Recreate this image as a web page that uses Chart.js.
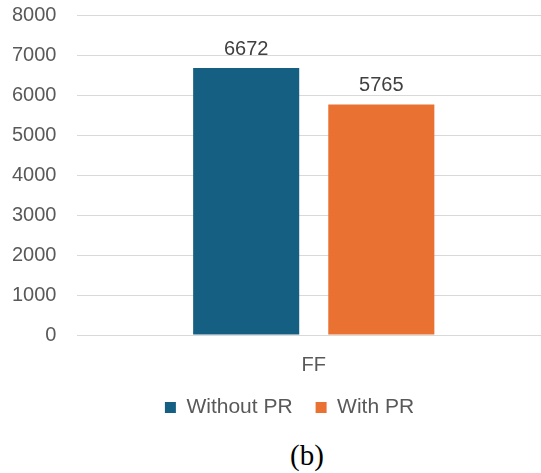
<!DOCTYPE html>
<html>
<head>
<meta charset="utf-8">
<script src="https://cdn.jsdelivr.net/npm/chart.js@4"></script>
<style>
html,body{margin:0;padding:0;background:#fff;overflow:hidden;width:541px;height:473px;position:relative;}
#wrap{position:absolute;left:0;top:-18px;width:550px;height:446px;}
#cap{position:absolute;left:290px;top:441px;font-family:"Liberation Serif","Times New Roman",serif;font-size:29px;line-height:29px;color:#000;white-space:nowrap;}
</style>
</head>
<body>
<div id="wrap"><canvas id="c" width="550" height="446"></canvas></div>
<div id="cap">(b)</div>
<script>
const categories = ["FF"];
const seriesNames = ["Without PR", "With PR"];
const withoutPR = [6672];
const withPR = [5765];
const yTicks = [0, 1000, 2000, 3000, 4000, 5000, 6000, 7000, 8000];

const FONT = '"Liberation Sans", Arial, sans-serif';

const labelPlugin = {
  id: 'valueLabels',
  afterDatasetsDraw(chart) {
    const ctx = chart.ctx;
    ctx.save();
    ctx.font = '20px ' + FONT;
    ctx.fillStyle = '#404040';
    ctx.textAlign = 'center';
    ctx.textBaseline = 'bottom';
    chart.data.datasets.forEach((ds, i) => {
      const meta = chart.getDatasetMeta(i);
      meta.data.forEach((el, j) => {
        ctx.fillText(String(ds.data[j]), el.x, el.y - 9);
      });
    });
    ctx.restore();
  }
};

// nudge the legend block horizontally to match the reference placement
const legendShift = {
  id: 'legendShift',
  afterLayout(chart) {
    if (chart.legend) {
      chart.legend.left += 19;
      chart.legend.right += 19;
    }
  }
};

new Chart(document.getElementById('c'), {
  type: 'bar',
  data: {
    labels: categories,
    datasets: [
      { label: seriesNames[0], data: withoutPR, backgroundColor: '#156082', borderWidth: 0 },
      { label: seriesNames[1], data: withPR, backgroundColor: '#E97132', borderWidth: 0 }
    ]
  },
  options: {
    responsive: false,
    animation: false,
    devicePixelRatio: 1,
    categoryPercentage: 0.572,
    barPercentage: 0.785,
    layout: { padding: { top: 0, left: -9, right: 0, bottom: 0 } },
    plugins: {
      legend: {
        position: 'bottom',
        labels: {
          font: { size: 21, family: FONT },
          color: '#595959',
          boxWidth: 11,
          boxHeight: 11,
          padding: 23
        }
      },
      tooltip: { enabled: false }
    },
    scales: {
      x: {
        grid: { display: false },
        border: { display: false },
        ticks: { font: { size: 20, family: FONT }, color: '#595959', padding: 10 },
        afterFit(scale) { scale.height = 39; }
      },
      y: {
        min: 0, max: 8000,
        afterBuildTicks(axis) { axis.ticks = yTicks.map(v => ({ value: v })); },
        grid: { color: '#d9d9d9', lineWidth: 1, drawTicks: false },
        border: { display: false },
        ticks: {
          font: { size: 20, family: FONT }, color: '#595959', padding: 21,
          callback: (v) => String(v)
        }
      }
    }
  },
  plugins: [labelPlugin, legendShift]
});
</script>
</body>
</html>
